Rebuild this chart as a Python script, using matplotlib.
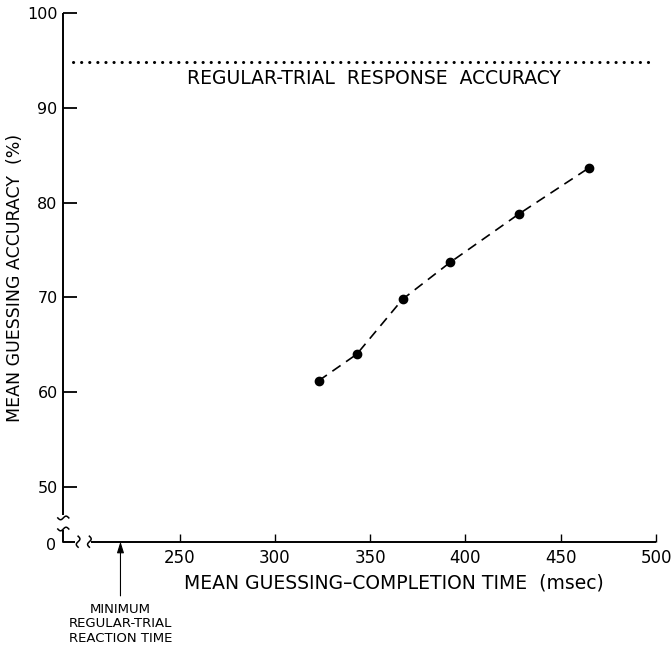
"""Guessing accuracy vs guessing-completion time."""
import numpy as np
import matplotlib
matplotlib.use('Agg')
import matplotlib.pyplot as plt

# Data
completion_ms = [323, 343, 367, 392, 428, 465]
accuracy_pct = [61.2, 64.0, 69.8, 73.7, 78.8, 83.7]
regular_accuracy = 94.9   # regular-trial response accuracy (%)
min_regular_rt = 219      # minimum regular-trial reaction time (msec)

x_ticks = [250, 300, 350, 400, 450, 500]
y_ticks = [50, 60, 70, 80, 90, 100]

plt.rcParams['font.family'] = 'DejaVu Sans'

W, H = 672, 648
fig = plt.figure(figsize=(W / 100, H / 100), dpi=100)
left, right, top, bottom = 63.3, 656, 13.3, 541.7
ax = fig.add_axes([left / W, 1 - bottom / H, (right - left) / W, (bottom - top) / H])
axw, axh = right - left, bottom - top

ax.set_xlim(189, 500)
ax.set_ylim(44.2, 100)
for s in ax.spines.values():
    s.set_visible(False)

# hand-drawn axes with breaks
k = dict(color='black', lw=1.4, transform=ax.transAxes, clip_on=False,
         solid_capstyle='butt')
ax.plot([0, 0], [0.05, 1], **k)
ax.plot([0, 0, 0.02], [0.022, 0, 0], **k)
ax.plot([0.046, 1], [0, 0], **k)


def squiggle(cx, cy, vertical):
    t = np.linspace(-1, 1, 40)
    along = t * 5.5
    across = 1.8 * np.sin(np.pi * t)
    if vertical:
        xs, ys = across, along
    else:
        xs, ys = along, across
    ax.plot(cx + xs / axw, cy + ys / axh, color='black', lw=1.1,
            transform=ax.transAxes, clip_on=False)


squiggle(0, 0.045, False)
squiggle(0, 0.024, False)
squiggle(0.025, 0, True)
squiggle(0.044, 0, True)

ax.set_xticks(x_ticks)
ax.set_yticks(y_ticks)
ax.tick_params(axis='y', direction='in', length=10, width=1.3, labelsize=11.5, pad=4)
ax.tick_params(axis='x', direction='in', length=6, width=1.0, labelsize=12, pad=5)
ax.annotate('0', xy=(0, 0), xycoords='axes fraction', xytext=(-5, -3),
            textcoords='offset points', ha='right', va='center', fontsize=11.5)

# reference line
ax.axhline(regular_accuracy, xmin=0.016, xmax=1.0, color='black', lw=2.2,
           linestyle=(0, (0.05, 2.6)), dash_capstyle='round', clip_on=False)
ax.text(352, regular_accuracy - 1.8, 'REGULAR-TRIAL  RESPONSE  ACCURACY',
        ha='center', va='center', fontsize=13.5)

# data
ax.plot(completion_ms, accuracy_pct, color='black', lw=1.2,
        linestyle=(0, (6, 4)), marker='o', markersize=6)

ax.annotate('MINIMUM\nREGULAR-TRIAL\nREACTION TIME', xy=(min_regular_rt, 44.2),
            xytext=(0, -44), textcoords='offset points', ha='center', va='top',
            fontsize=9.5, linespacing=1.15, annotation_clip=False,
            arrowprops=dict(arrowstyle='-|>,head_length=0.7,head_width=0.22',
                            lw=0.8, color='black', shrinkA=3, shrinkB=0))

ax.set_xlabel('MEAN GUESSING\u2013COMPLETION TIME  (msec)', fontsize=13.5,
              x=0.557, labelpad=5)
ax.set_ylabel('MEAN GUESSING ACCURACY  (%)', fontsize=12.5)
ax.yaxis.set_label_coords(-0.066, 0.5)

fig.savefig('out.png', dpi=100)
